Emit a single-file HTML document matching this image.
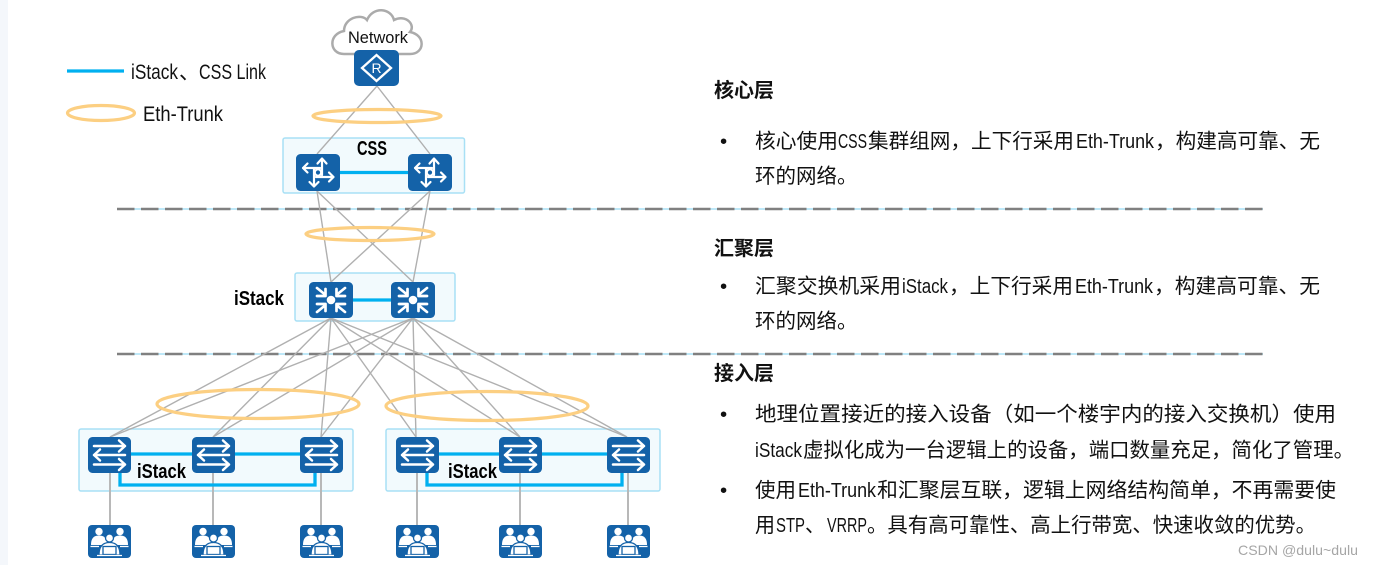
<!DOCTYPE html>
<html><head><meta charset="utf-8"><style>
html,body{margin:0;padding:0;background:#fff;width:1373px;height:565px;overflow:hidden}
svg{display:block;filter:blur(.35px)}
text{font-family:"Liberation Sans","Noto Sans CJK SC",sans-serif;fill:#111}
.n{font-family:"Liberation Sans Narrow","Liberation Sans",sans-serif}
.b{font-size:20.500px}
.t{font-size:20.500px;font-family:"Liberation Sans Narrow","Liberation Sans",sans-serif}
.h{font-size:20px;font-weight:bold}
.l{font-size:21px;font-family:"Liberation Sans Narrow","Liberation Sans",sans-serif}
.i{font-size:20px;font-weight:bold;fill:#000;font-family:"Liberation Sans Narrow","Liberation Sans",sans-serif}
</style></head><body>
<svg width="1373" height="565" viewBox="0 0 1373 565" xmlns="http://www.w3.org/2000/svg">
<defs>
<symbol id="sw" viewBox="0 0 43 36" width="43" height="36" overflow="visible">
<rect width="43" height="36" rx="4.500" fill="#1462a8"/>
<g fill="none" stroke="#fff" stroke-width="2.500" stroke-linecap="round" stroke-linejoin="round">
<path d="M6 9H37M31 3.500L37 9L31 14.500"/>
<path d="M37 18H6M12 12.500L6 18L12 23.500"/>
<path d="M6 27.500H37M31 22L37 27.500L31 33"/>
</g></symbol>
<symbol id="core" viewBox="0 0 44 37" width="44" height="37" overflow="visible">
<rect width="44" height="37" rx="4.500" fill="#1462a8"/>
<g fill="none" stroke="#fff" stroke-width="2.200" stroke-linecap="round" stroke-linejoin="round">
<path d="M26 5V21M21.500 9.500L26 4.500L30.500 9.500"/>
<path d="M18 15V32.500M13.500 28L18 32.500L22.500 28"/>
<path d="M7 14H24M11.500 9.500L7 14L11.500 18.500"/>
<path d="M20 23H37.500M33 18.500L37.500 23L33 27.500"/>
<circle cx="22" cy="18.500" r="3.200" fill="#1462a8"/>
</g></symbol>
<symbol id="agg" viewBox="0 0 44 36" width="44" height="36" overflow="visible">
<rect width="44" height="36" rx="4.500" fill="#1462a8"/>
<circle cx="22" cy="18" r="4.300" fill="#fff"/>
<g fill="none" stroke="#fff" stroke-width="2.700" stroke-linecap="round" stroke-linejoin="round">
<path d="M8 6L16 12.500M8 14H16.500V7"/>
<path d="M36 6L28 12.500M36 14H27.500V7"/>
<path d="M8 30L16 23.500M8 22H16.500V29"/>
<path d="M36 30L28 23.500M36 22H27.500V29"/>
</g></symbol>
<symbol id="user" viewBox="0 0 43 33" width="43" height="33" overflow="visible">
<rect width="43" height="33" rx="4" fill="#1462a8"/>
<g fill="#fff">
<circle cx="11" cy="6.500" r="3.700"/><circle cx="32" cy="6.500" r="3.700"/>
<path d="M3 20C3 12 7 10.500 11 10.500C15 10.500 19 12 19 20Z"/>
<path d="M40 20C40 12 36 10.500 32 10.500C28 10.500 24 12 24 20Z"/>
</g>
<g fill="#fff" stroke="#1462a8" stroke-width="1.300">
<circle cx="21.500" cy="13" r="4"/>
<path d="M11 30C11 21 15 17.500 21.500 17.500C28 17.500 32 21 32 30Z"/>
<rect x="15" y="21.500" width="13" height="8"/>
</g>
<path d="M2.500 21.500H11M32 21.500H40.500M9 30.500H34" stroke="#fff" stroke-width="1.300"/>
</symbol>
</defs>

<rect x="0" y="0" width="8" height="565" fill="#f4f7fb"/>

<g fill="#f2fafd" stroke="#a8e0f5" stroke-width="1.500">
<rect x="283" y="138" width="181.500" height="55" rx="2"/>
<rect x="295" y="273" width="160" height="48" rx="2"/>
<rect x="79" y="429" width="274" height="62" rx="2"/>
<rect x="386" y="429" width="274" height="62" rx="2"/>
</g>

<g fill="none">
<path d="M117 209H1263M117 354H1263" stroke="#a8e0f5" stroke-width="1.500"/>
<path d="M117 209H1263M117 354H1263" stroke="#808080" stroke-width="2.500" stroke-dasharray="17.500 6.500"/>
</g>

<g stroke="#b0b0b0" stroke-width="1.400" fill="none">
<path d="M377 86L317 154M377 86L430 154"/>
<path d="M317 191L331 282M317 191L413 282M430 191L331 282M430 191L413 282"/>
<path d="M331 318L110 437M331 318L213 437M331 318L321 437M331 318L416 437M331 318L520 437M331 318L627 437"/>
<path d="M413 318L110 437M413 318L213 437M413 318L321 437M413 318L416 437M413 318L520 437M413 318L627 437"/>
</g>
<g stroke="#b8b8b8" stroke-width="2" fill="none">
<path d="M110 472V525M213 472V525M321 472V525M417 472V525M520 472V525M628 472V525"/>
</g>

<g stroke="#00b0f0" stroke-width="3.300" fill="none">
<path d="M67 71H124"/>
<path d="M340 172.500H408"/>
<path d="M353 300H391"/>
<path d="M131 454H300"/>
<path d="M120 472V485H315V472"/>
<path d="M438 454H607"/>
<path d="M427 472V485H622V472"/>
</g>

<g fill="none" stroke="#fccf82" stroke-width="3.200">
<ellipse cx="101" cy="113" rx="33.500" ry="7.500"/>
<ellipse cx="377" cy="116" rx="64" ry="6.500"/>
<ellipse cx="370" cy="234" rx="64" ry="6.500"/>
<ellipse cx="258" cy="404" rx="101" ry="14.500"/>
<ellipse cx="487" cy="406" rx="101" ry="14.500"/>
</g>

<path d="M344 54C329 54 328 34 344 31C344 18 361 13 367 20C373 6 391 8 394 20C406 14 416 25 410 32C426 35 425 54 410 54Z" fill="#fff" stroke="#ababab" stroke-width="2.500"/>

<rect x="354" y="50" width="45" height="36" rx="5" fill="#1462a8"/>
<path d="M376.500 55L391 68L376.500 81L362 68Z" fill="none" stroke="#fff" stroke-width="2.300"/>
<text x="376.500" y="73" text-anchor="middle" style="font-size:14px;fill:#fff">R</text>

<use href="#core" x="296" y="154"/><use href="#core" x="408" y="154"/>
<use href="#agg" x="309" y="282"/><use href="#agg" x="391" y="282"/>
<use href="#sw" x="88" y="437"/><use href="#sw" x="192" y="437"/><use href="#sw" x="300" y="437"/>
<use href="#sw" x="396" y="437"/><use href="#sw" x="499" y="437"/><use href="#sw" x="607" y="437"/>
<use href="#user" x="88" y="525"/><use href="#user" x="192" y="525"/><use href="#user" x="300" y="525"/>
<use href="#user" x="396" y="525"/><use href="#user" x="499" y="525"/><use href="#user" x="607" y="525"/>

<text x="348" y="43" class="n" style="font-size:17px" textLength="60" lengthAdjust="spacingAndGlyphs">Network</text>
<text x="131" y="79" class="l" textLength="47" lengthAdjust="spacingAndGlyphs">iStack</text>
<text x="179" y="79" class="l">、</text>
<text x="199" y="79" class="l" textLength="67" lengthAdjust="spacingAndGlyphs">CSS Link</text>
<text x="143" y="121" class="l" textLength="80" lengthAdjust="spacingAndGlyphs">Eth-Trunk</text>
<text x="357" y="155" class="i" textLength="30" lengthAdjust="spacingAndGlyphs">CSS</text>
<text x="234" y="305" class="i" textLength="50" lengthAdjust="spacingAndGlyphs">iStack</text>
<text x="137" y="478" class="i" textLength="49" lengthAdjust="spacingAndGlyphs">iStack</text>
<text x="448" y="478" class="i" textLength="49" lengthAdjust="spacingAndGlyphs">iStack</text>

<text x="714" y="97" class="h">核心层</text>
<text x="720" y="148" class="b">•</text>
<text x="755" y="148" class="b" textLength="83" lengthAdjust="spacingAndGlyphs">核心使用</text>
<text x="838" y="148" class="t" textLength="29" lengthAdjust="spacingAndGlyphs">CSS</text>
<text x="868" y="148" class="b" textLength="206" lengthAdjust="spacingAndGlyphs">集群组网，上下行采用</text>
<text x="1076" y="148" class="t" textLength="78" lengthAdjust="spacingAndGlyphs">Eth-Trunk</text>
<text x="1155" y="148" class="b" textLength="165" lengthAdjust="spacingAndGlyphs">，构建高可靠、无</text>
<text x="755" y="183" class="b">环的网络。</text>

<text x="714" y="255" class="h">汇聚层</text>
<text x="720" y="293" class="b">•</text>
<text x="755" y="293" class="b" textLength="146" lengthAdjust="spacingAndGlyphs">汇聚交换机采用</text>
<text x="902" y="293" class="t" textLength="46" lengthAdjust="spacingAndGlyphs">iStack</text>
<text x="949" y="293" class="b" textLength="124" lengthAdjust="spacingAndGlyphs">，上下行采用</text>
<text x="1075" y="293" class="t" textLength="78" lengthAdjust="spacingAndGlyphs">Eth-Trunk</text>
<text x="1154" y="293" class="b" textLength="166" lengthAdjust="spacingAndGlyphs">，构建高可靠、无</text>
<text x="755" y="328" class="b">环的网络。</text>

<text x="714" y="380" class="h">接入层</text>
<text x="720" y="421" class="b">•</text>
<text x="755" y="421" class="b" textLength="581" lengthAdjust="spacingAndGlyphs">地理位置接近的接入设备（如一个楼宇内的接入交换机）使用</text>
<text x="755" y="457" class="t" textLength="47" lengthAdjust="spacingAndGlyphs">iStack</text>
<text x="803" y="457" class="b" textLength="551" lengthAdjust="spacingAndGlyphs">虚拟化成为一台逻辑上的设备，端口数量充足，简化了管理。</text>
<text x="720" y="497" class="b">•</text>
<text x="755" y="497" class="b" textLength="41" lengthAdjust="spacingAndGlyphs">使用</text>
<text x="798" y="497" class="t" textLength="78" lengthAdjust="spacingAndGlyphs">Eth-Trunk</text>
<text x="877" y="497" class="b" textLength="459" lengthAdjust="spacingAndGlyphs">和汇聚层互联，逻辑上网络结构简单，不再需要使</text>
<text x="755" y="532" class="b" textLength="20" lengthAdjust="spacingAndGlyphs">用</text>
<text x="776" y="532" class="t" textLength="29" lengthAdjust="spacingAndGlyphs">STP</text>
<text x="805" y="532" class="b" textLength="20" lengthAdjust="spacingAndGlyphs">、</text>
<text x="827" y="532" class="t" textLength="40" lengthAdjust="spacingAndGlyphs">VRRP</text>
<text x="867" y="532" class="b" textLength="449" lengthAdjust="spacingAndGlyphs">。具有高可靠性、高上行带宽、快速收敛的优势。</text>

<text x="1238" y="555" class="n" style="font-size:14px;fill:#a6a6a6" textLength="120" lengthAdjust="spacingAndGlyphs">CSDN @dulu~dulu</text>
</svg>
</body></html>
